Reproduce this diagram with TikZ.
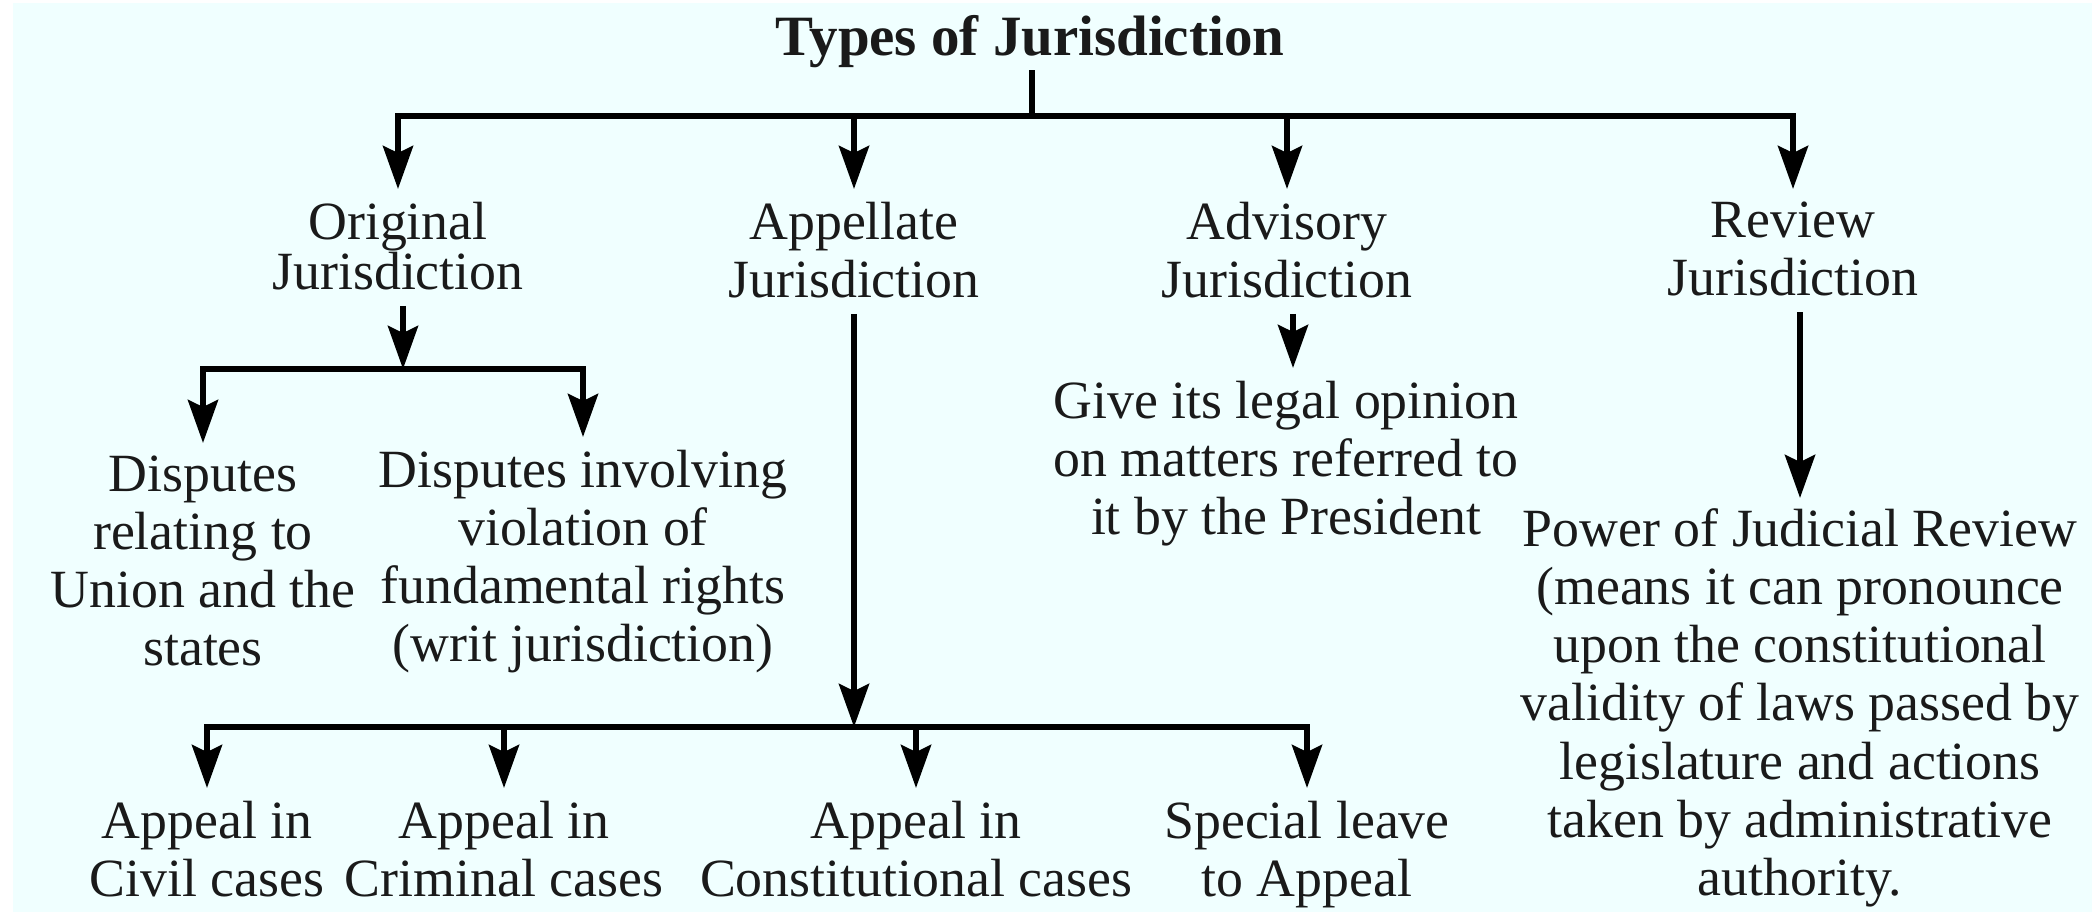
\documentclass[tikz,border=0pt]{standalone}
\usepackage{fontspec}
\setmainfont{Liberation Serif}
\usetikzlibrary{arrows.meta}
\definecolor{bgcyan}{HTML}{F0FFFF}
\definecolor{ink}{HTML}{1A1A1A}

\begin{document}
\begin{tikzpicture}[x=0.01cm,y=-0.01cm,line width=0.06cm,
    >={Stealth[length=0.43cm,width=0.3cm,inset=0.07cm]},
    every node/.style={anchor=north,inner sep=0pt,align=center,text=ink,font=\fontsize{15.3}{16.5}\selectfont},
    hv/.style={to path={-| (\tikztotarget)}},
    down/.style={->,shorten <=0.13cm},
    branch/.style={->,hv,shorten >=0.1cm}]
	\fill[white] (0,0) rectangle (2095,914);
	\useasboundingbox (0,0) rectangle (2095,914);
	\fill[bgcyan] (13,3) rectangle (2092,912);

	\node[font=\fontsize{16.2}{18}\selectfont\bfseries] (title) at (1030,12) {Types of Jurisdiction};
	\node (orig) at (398,199) {Original\\[-0.08cm]Jurisdiction};
	\node (app) at (854,199) {Appellate\\Jurisdiction};
	\node (adv) at (1287,199) {Advisory\\Jurisdiction};
	\node (rev) at (1793,199) {Review\\Jurisdiction};
	\node (disp_1) at (203,453) {Disputes\\relating to\\Union and the\\states};
	\node (disp_2) at (583,447) {Disputes involving\\violation of\\fundamental rights\\(writ jurisdiction)};
	\node (opinion) at (1286,378) {Give its legal opinion\\on matters referred to\\it by the President};
	\node (power) at (1800,506) {Power of Judicial Review\\(means it can pronounce\\upon the constitutional\\validity of laws passed by\\legislature and actions\\taken by administrative\\authority.};
	\node (civil) at (207,798) {Appeal in\\Civil cases};
	\node (crim) at (504,798) {Appeal in\\Criminal cases};
	\node (const) at (916,798) {Appeal in\\Constitutional cases};
	\node (special) at (1307,798) {Special leave\\to Appeal};

	\coordinate (mainbar) at (1032,116);
	\coordinate (origbar) at (403,369);
	\coordinate (advdrop) at (1293,368);
	\coordinate (appbar) at (854,727);

	\path
		(title.south -| mainbar) edge (mainbar)
		(mainbar) edge[branch] (orig)
		(mainbar) edge[branch] (app)
		(mainbar) edge[branch] (adv)
		(mainbar) edge[branch] (rev)
		(orig.south -| origbar) edge[down] (origbar)
		(origbar) edge[branch] (disp_1)
		(origbar) edge[branch] (disp_2)
		(adv.south -| advdrop) edge[down] (advdrop)
		(rev.south -| power.north) edge[down,shorten >=0.08cm] (power)
		(app) edge[down] (appbar)
		(appbar) edge[branch] (civil)
		(appbar) edge[branch] (crim)
		(appbar) edge[branch] (const)
		(appbar) edge[branch] (special);
\end{tikzpicture}
\end{document}
